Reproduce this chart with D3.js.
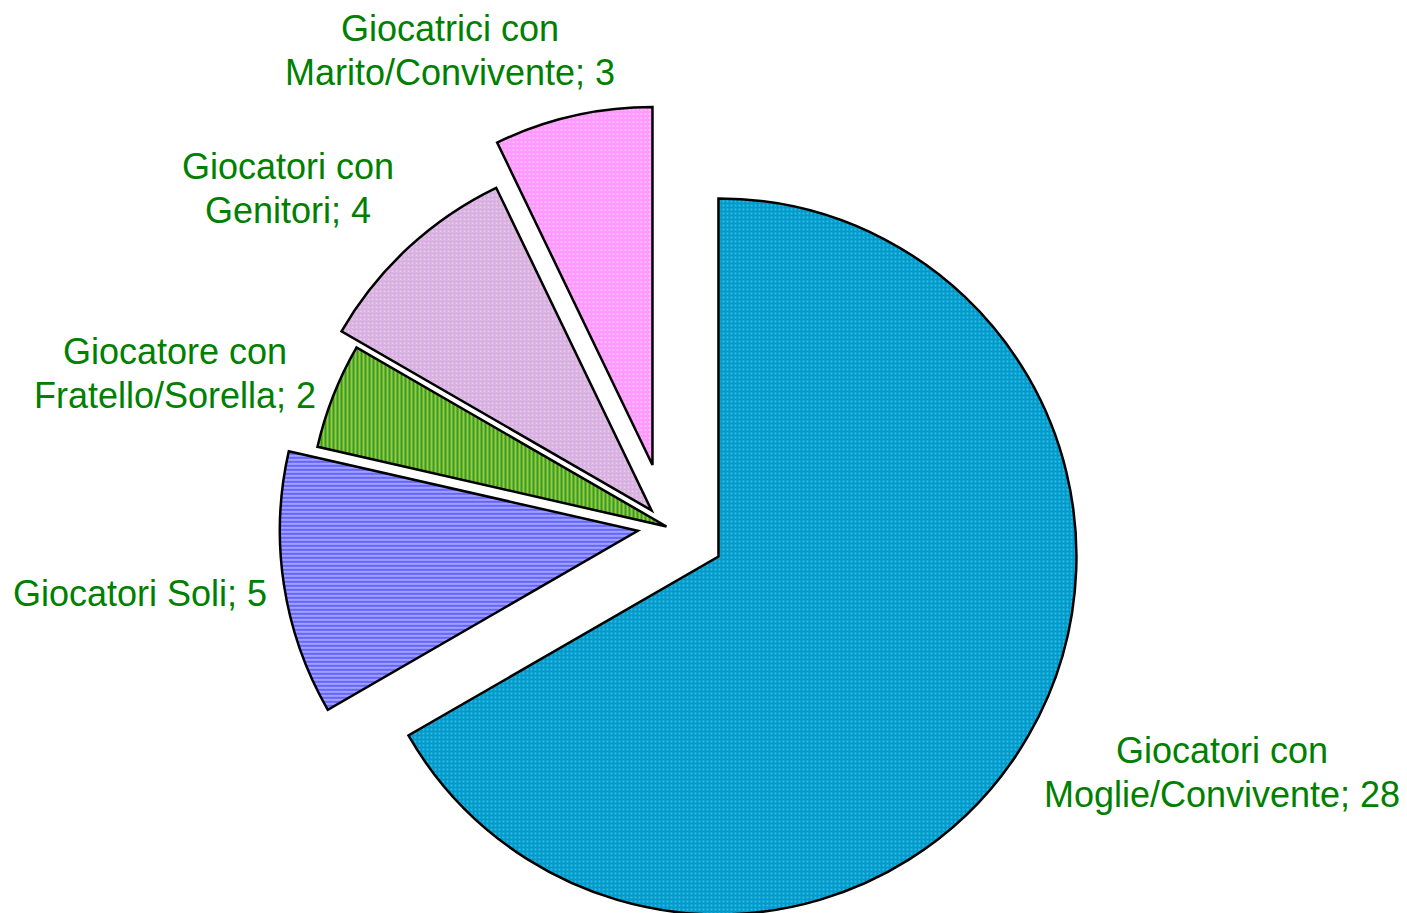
<!DOCTYPE html>
<html>
<head>
<meta charset="utf-8">
<script src="https://cdn.jsdelivr.net/npm/d3@7"></script>
<style>
  body { margin: 0; background: #fff; }
  text { font-family: "Liberation Sans", Arial, sans-serif; }
</style>
</head>
<body>
<div id="chart"></div>
<script>
// data
var labels = [
  ["Giocatori con", "Moglie/Convivente; 28"],
  ["Giocatori Soli; 5"],
  ["Giocatore con", "Fratello/Sorella; 2"],
  ["Giocatori con", "Genitori; 4"],
  ["Giocatrici con", "Marito/Convivente; 3"]
];
var values = [28, 5, 2, 4, 3];
var explode = [60, 29, 0, 22, 63];

var width = 1407, height = 913;
var cx = 666.5, cy = 526.5, radius = 358;

var svg = d3.select("#chart")
  .append("svg")
    .attr("width", width)
    .attr("height", height);

// fill patterns
var defs = svg.append("defs");
var pats = [
  { base: "#0099cc", dot: "#33bbdd", kind: "dots" },
  { base: "#6666ff", dot: "#a0a0ff", kind: "hlines" },
  { base: "#339933", dot: "#99cc33", kind: "vlines" },
  { base: "#d4b0e4", dot: "#f0c8d8", kind: "dots" },
  { base: "#ff99ff", dot: "#ffbbff", kind: "dots" }
];
pats.forEach(function(p, i){
  var pat = defs.append("pattern")
    .attr("id", "pat" + i)
    .attr("patternUnits", "userSpaceOnUse")
    .attr("width", 4)
    .attr("height", 4);
  pat.append("rect").attr("width", 4).attr("height", 4).attr("fill", p.base);
  if(p.kind == "dots"){
    pat.append("rect").attr("x", 0).attr("y", 0).attr("width", 2).attr("height", 2).attr("fill", p.dot);
  }
  else if(p.kind == "hlines"){
    pat.append("rect").attr("x", 0).attr("y", 0).attr("width", 4).attr("height", 2).attr("fill", p.dot);
  }
  else {
    pat.append("rect").attr("x", 0).attr("y", 0).attr("width", 2).attr("height", 4).attr("fill", p.dot);
  }
});

var pie = d3.pie().sort(null).value(function(d){ return d; });
var arc = d3.arc().innerRadius(0).outerRadius(radius);
var arcs = pie(values);

var g = svg.append("g").attr("transform", "translate(" + cx + "," + cy + ")");

g.selectAll("path.slice")
  .data(arcs)
  .enter().append("path")
    .attr("class", "slice")
    .attr("d", arc)
    .attr("transform", function(d, i){
      var a = (d.startAngle + d.endAngle) / 2;
      return "translate(" + (Math.sin(a) * explode[i]) + "," + (-Math.cos(a) * explode[i]) + ")";
    })
    .attr("fill", function(d, i){ return "url(#pat" + i + ")"; })
    .attr("stroke", "#000")
    .attr("stroke-width", 2.5)
    .attr("stroke-linejoin", "miter");

// label positions (center of first line, relative to page)
var labelPos = [[1222, 750], [140, 593], [175, 351], [288, 166], [450, 28]];

var lbl = svg.selectAll("text.label")
  .data(labels)
  .enter().append("text")
    .attr("class", "label")
    .attr("text-anchor", "middle")
    .attr("fill", "#008000")
    .attr("font-size", 36);

lbl.each(function(d, i){
  var t = d3.select(this);
  d.forEach(function(line, j){
    t.append("tspan")
      .attr("x", labelPos[i][0])
      .attr("y", labelPos[i][1] + j * 44 + 13)
      .text(line);
  });
});
</script>
</body>
</html>
